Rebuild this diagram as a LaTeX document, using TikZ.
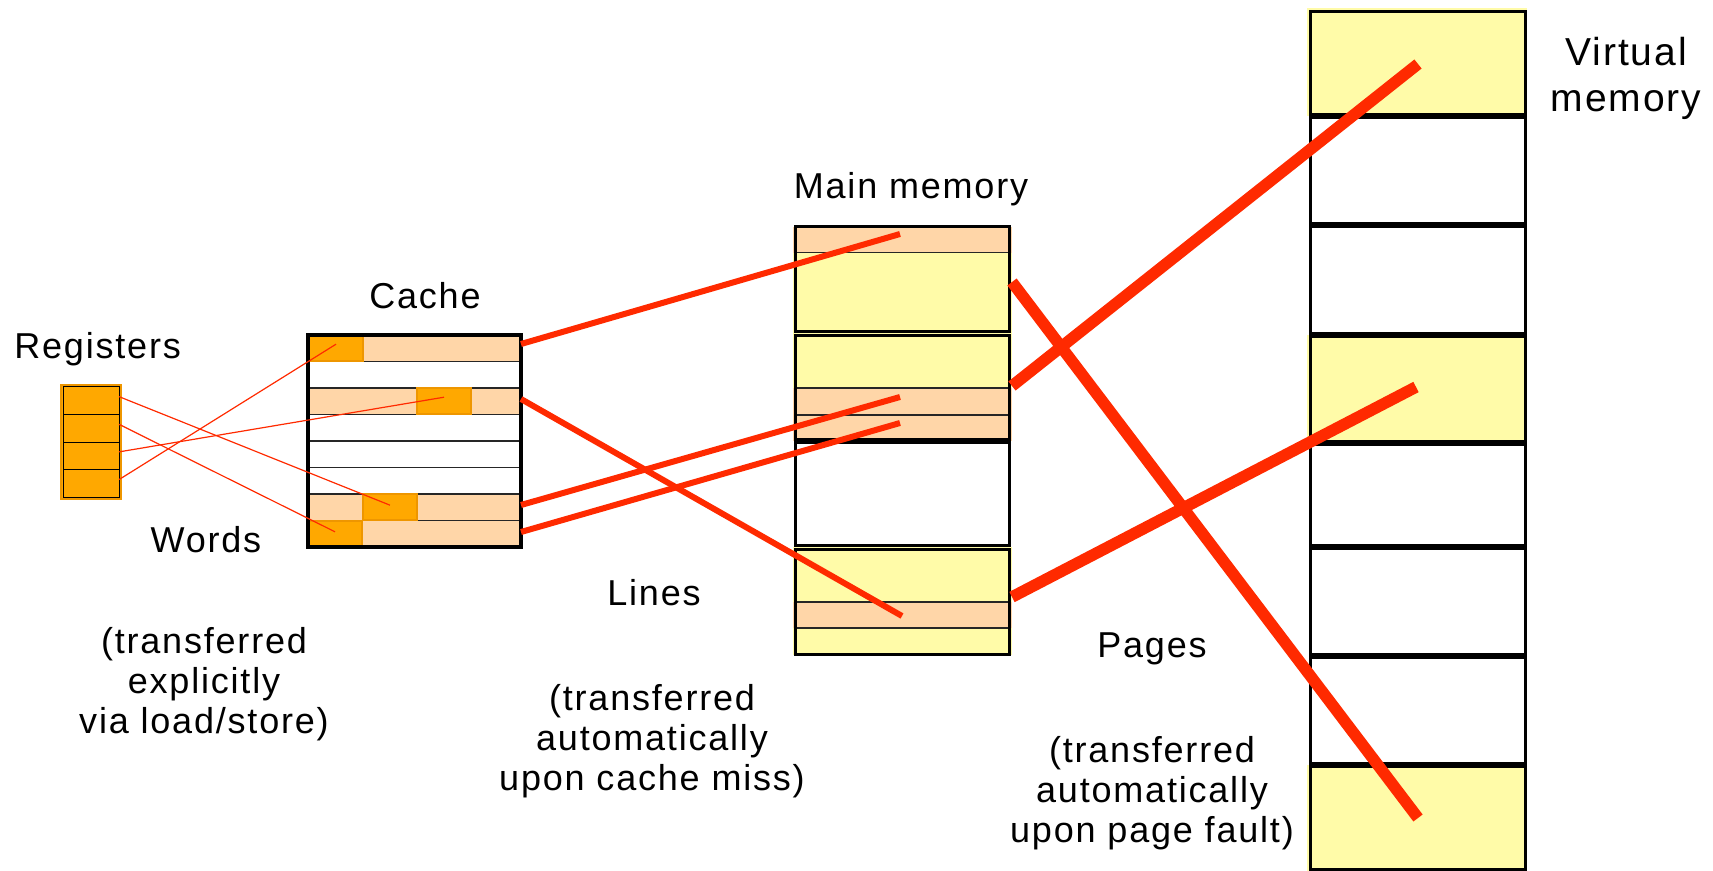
\documentclass[tikz,border=0pt]{standalone}
\usepackage{fontspec}
\setmainfont{Liberation Sans}[LetterSpace=5]
\definecolor{wordorange}{RGB}{255,168,0}
\definecolor{wordedge}{RGB}{238,150,0}
\definecolor{peach}{RGB}{255,214,168}
\definecolor{pageyellow}{RGB}{255,251,168}
\definecolor{linkred}{RGB}{255,42,0}
\begin{document}
\begin{tikzpicture}[x=0.5pt,y=-0.5pt,
  cellline/.style={draw=black!85,line width=0.6pt},
  frame/.style={draw=black,line width=1.6pt},
  pageframe/.style={draw=black,line width=1.5pt},
  wordbox/.style={rectangle,fill=wordorange,draw=wordedge,line width=0.8pt,
    inner sep=0pt,outer sep=0pt,minimum width=27pt,minimum height=13pt},
  regcell/.style={rectangle,fill=wordorange,draw=black,line width=0.5pt,
    inner sep=0pt,outer sep=0pt,minimum width=28pt,minimum height=13.85pt},
  wordlink/.style={draw=linkred,line width=0.6pt},
  linelink/.style={draw=linkred,line width=3pt},
  pagelink/.style={draw=linkred,line width=5.8pt},
  label/.style={font=\fontsize{18}{20}\selectfont,inner sep=0pt,anchor=base,align=center},
  biglabel/.style={font=\fontsize{19.5}{23.3}\selectfont,inner sep=0pt,anchor=base,align=center}]
\useasboundingbox (0,0) rectangle (1713,871);

% ---------------- registers ----------------
\fill[wordorange] (61,385) rectangle (121,499);
\draw[wordedge,line width=1pt] (61,385) rectangle (121,499);
\node[regcell] (r1) at (91,400.6) {};
\node[regcell] (r2) at (91,428.3) {};
\node[regcell] (r3) at (91,455.9) {};
\node[regcell] (r4) at (91,483.6) {};

% ---------------- cache ----------------
\fill[peach] (306,335) rectangle (523,361.5);
\fill[peach] (306,388) rectangle (523,414.5);
\fill[peach] (306,494) rectangle (523,547);
\foreach \y in {361.5,388,414.5,441,467.5,494,520.5}
  \draw[cellline] (308,\y) -- (521,\y);
\node[wordbox] (w1) at (336,348.2) {};
\node[wordbox] (w3) at (444,401.2) {};
\node[wordbox] (w7) at (390,507.2) {};
\node[wordbox] (w8) at (335,533.8) {};
\draw[frame] (308,335) rectangle (521,547);
\coordinate (cl1) at (521,344);
\coordinate (cl3) at (521,399);
\coordinate (cl7) at (521,505);
\coordinate (cl8) at (521,532);

% ---------------- main memory ----------------
\fill[peach] (793,226.7) rectangle (1012,252.7);
\fill[pageyellow] (793,252.7) rectangle (1012,334);
\fill[pageyellow] (793,334) rectangle (1012,388);
\fill[peach] (793,388) rectangle (1012,441);
\fill[pageyellow] (793,547) rectangle (1012,602);
\fill[peach] (793,602) rectangle (1012,628);
\fill[pageyellow] (793,628) rectangle (1012,655);
\foreach \y in {252.7,388,415,602,628}
  \draw[cellline] (795,\y) -- (1009,\y);
\draw[pageframe] (795,227) rectangle (1009,332);
\draw[pageframe] (795,336) rectangle (1009,439.5);
\draw[pageframe] (795,442.5) rectangle (1009,545);
\draw[pageframe] (795,549) rectangle (1009,654);
\coordinate (ml1) at (900,234);
\coordinate (ml2a) at (900,397);
\coordinate (ml2b) at (900,423);
\coordinate (ml4) at (902,616);
\coordinate (mp1) at (1012,282);
\coordinate (mp2) at (1012,386);
\coordinate (mp4) at (1012,597);

% ---------------- virtual memory ----------------
\fill[pageyellow] (1307,8) rectangle (1527,116.5);
\fill[pageyellow] (1307,335) rectangle (1527,443);
\fill[pageyellow] (1307,765) rectangle (1527,871);
\foreach \t/\b in {10/116.5,116.5/225,225/335,335/443,443/546.5,546.5/656,656/765,765/871}
  \draw[pageframe] (1310,\t+1.5) rectangle (1525,\b-1.5);
\coordinate (vp1) at (1418,64);
\coordinate (vp4) at (1416,387);
\coordinate (vp8) at (1418,818);

% ---------------- transfers ----------------
\draw[wordlink] ([yshift=2pt]r1.east) -- ([yshift=1pt]w7.center);
\draw[wordlink] ([yshift=2pt]r2.east) -- ([yshift=1pt]w8.center);
\draw[wordlink] ([yshift=2pt]r3.east) -- ([yshift=2pt]w3.center);
\draw[wordlink] ([yshift=2pt]r4.east) -- ([yshift=2pt]w1.center);

\draw[linelink] (cl1) -- (ml1);
\draw[linelink] (cl3) -- (ml4);
\draw[linelink] (cl7) -- (ml2a);
\draw[linelink] (cl8) -- (ml2b);

\draw[pagelink] (mp2) -- (vp1);
\draw[pagelink] (mp4) -- (vp4);
\draw[pagelink] (mp1) -- (vp8);

% ---------------- labels (multi-line nodes sit on their last baseline) ----------------
\node[label,anchor=base west] (tRegs) at (14,359) {Registers};
\node[label] (tCache) at (425,309) {Cache};
\node[label] (tMain) at (911,199) {Main memory};
\node[biglabel] (tVirt) at (1626,112) {Virtual\\memory};
\node[label] (tWords) at (206,552) {Words};
\node[label] (tWordsNote) at (204,733) {(transferred\\explicitly\\via load/store)};
\node[label] (tLines) at (654,605) {Lines};
\node[label] (tLinesNote) at (652,790) {(transferred\\automatically\\upon cache miss)};
\node[label] (tPages) at (1152,657) {Pages};
\node[label] (tPagesNote) at (1152,842) {(transferred\\automatically\\upon page fault)};
\end{tikzpicture}
\end{document}
